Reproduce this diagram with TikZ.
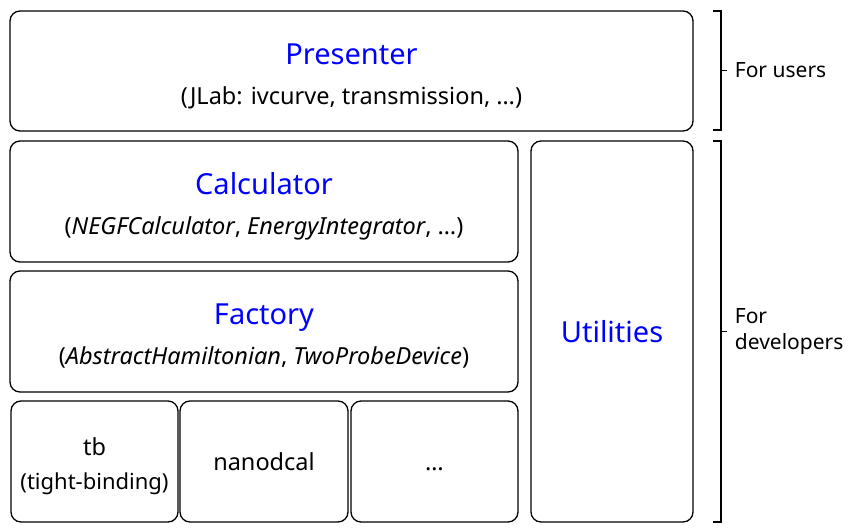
\documentclass[tikz,border=0pt]{standalone}
\usepackage{fontspec}
\setmainfont{Noto Sans}
\usetikzlibrary{positioning}
\usetikzlibrary{calc}
\tikzset{layer/.style={draw, rounded corners=10pt, line width=1.3pt, align=center, inner sep=0pt, font=\fontsize{23.5}{28}\selectfont}}
\newcommand{\layernode}[5] {\node at (#1) (#2) [layer, minimum width=#3, minimum height=#4] {#5};}
\newcommand{\layertitle}[1] {{\color{blue}\fontsize{29}{34}\selectfont #1}}
\newcommand{\topstrut}[1] {\rule{0pt}{#1}}
\newcommand{\audience}[4] {\coordinate (#1top) at (#2); \coordinate (#1bot) at (#3);
  \draw [line width=1.1pt] (#1top) -- ++(8,0) |- (#1bot);
  \coordinate (#1mid) at ($(#1top)!0.5!(#1bot)+(8,0)$);
  \draw [line width=1.1pt] (#1mid) -- ++(6,0) node [right=4pt, align=left, font=\fontsize{21}{26}\selectfont] (#1label) {#4};}

\begin{document}
\begin{tikzpicture}[x=1pt, y=-1pt]
\useasboundingbox (0,0) rectangle (849,532);
\layernode {351.5,71} {presenter} {683pt} {120pt} {\topstrut{32pt}\layertitle{Presenter}\\[12pt](JLab: ivcurve, transmission, \dots)};
\layernode {264,201.5} {calculator} {508pt} {121pt} {\topstrut{32pt}\layertitle{Calculator}\\[12pt](\textit{NEGFCalculator}, \textit{EnergyIntegrator}, \dots)};
\layernode {264,331.5} {factory} {508pt} {121pt} {\topstrut{30pt}\layertitle{Factory}\\[12pt](\textit{AbstractHamiltonian}, \textit{TwoProbeDevice})};
\layernode {94.5,461.5} {tb} {167pt} {121pt} {\topstrut{28pt}tb\\[6pt]{\fontsize{22}{26}\selectfont (tight-binding)}};
\layernode {264,461.5} {nanodcal} {168pt} {121pt} {nanodcal};
\layernode {434.5,461.5} {others} {167pt} {121pt} {\vphantom{nanodcal}\dots};
\layernode {612,331.5} {utilities} {162pt} {381pt} {\layertitle{Utilities}};

\audience {users} {713,11} {713,130} {For users};
\audience {devs} {713,141} {713,522} {For\\developers};
\end{tikzpicture}
\end{document}
